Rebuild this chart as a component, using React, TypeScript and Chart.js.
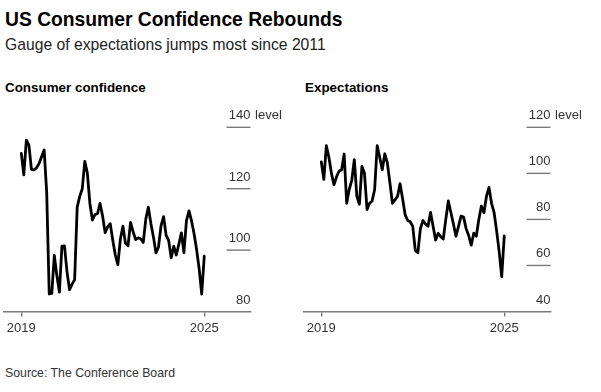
import React, { useEffect, useRef } from 'react';
import { Chart, registerables } from 'chart.js';

Chart.register(...registerables);

// Monthly readings, May 2019 – May 2025
const confidence: number[] = [
  131.5, 124.5, 135.8, 134.2, 126.3, 126.1, 126.8, 128.2,
  130.4, 132.6, 118.8, 85.7, 85.9, 98.3, 91.7, 86.3, 101.3, 101.4, 92.9, 87.1,
  88.9, 90.4, 114.0, 117.5, 120.0, 128.9, 125.1, 115.2, 109.8, 111.6, 111.9, 115.2,
  111.1, 105.7, 107.6, 108.6, 103.2, 98.4, 95.3, 103.6, 107.8, 102.2, 101.4, 109.0,
  106.0, 103.4, 104.0, 103.7, 102.5, 110.1, 114.0, 108.7, 104.3, 99.1, 101.0, 108.0,
  110.9, 104.8, 103.1, 97.5, 101.3, 98.4, 101.9, 105.6, 99.2, 109.6, 112.8, 109.5,
  105.3, 100.1, 93.9, 85.7, 98.0,
];

const expectations: number[] = [
  105.0, 97.4, 112.0, 107.0, 100.0, 95.0, 98.5, 101.0,
  101.5, 108.4, 87.0, 93.0, 97.0, 106.0, 90.0, 86.6, 103.0, 100.0, 84.3, 87.0,
  88.0, 93.0, 112.0, 107.0, 101.5, 108.5, 104.5, 96.0, 87.0, 88.5, 90.0, 95.5,
  89.0, 82.0, 79.5, 79.0, 77.0, 66.5, 65.5, 76.0, 79.5, 78.0, 77.0, 83.0,
  77.0, 71.0, 74.0, 72.5, 71.5, 80.0, 88.0, 83.0, 78.0, 72.7, 77.0, 81.4,
  81.0, 76.0, 73.0, 68.8, 74.0, 72.7, 80.0, 85.8, 82.9, 90.0, 93.9, 87.0,
  83.0, 75.0, 66.0, 55.1, 72.8,
];

const confidenceTicks: number[] = [80, 100, 120, 140];
const expectationsTicks: number[] = [40, 60, 80, 100, 120];
const xTickPositions: number[] = [0, 72];
const xTickLabels: string[] = ['2019', '2025'];
const unitLabel = 'level';

const FONT = '"Liberation Sans", Arial, Helvetica, sans-serif';
const GRID = '#7a7a7a';
const TEXT = '#333333';

function yTicksPlugin(ticks: number[]) {
  return {
    id: 'yTicksCustom',
    afterDraw(chart: any) {
      const { ctx, chartArea, scales } = chart;
      const y = scales.y;
      ctx.save();
      ctx.font = `13px ${FONT}`;
      ctx.fillStyle = TEXT;
      ctx.strokeStyle = GRID;
      ctx.lineWidth = 1.4;
      ticks.forEach((v, i) => {
        const py = y.getPixelForValue(v);
        if (i > 0) {
          ctx.beginPath();
          ctx.moveTo(chartArea.right - 24, py);
          ctx.lineTo(chartArea.right, py);
          ctx.stroke();
        }
        ctx.textAlign = 'right';
        ctx.textBaseline = 'alphabetic';
        ctx.fillText(String(v), chartArea.right, py - 8);
        if (i === ticks.length - 1) {
          ctx.textAlign = 'left';
          ctx.fillText(' ' + unitLabel, chartArea.right + 1, py - 8);
        }
      });
      ctx.restore();
    },
  };
}

function makeConfig(values: number[], ticks: number[], rightPad: number) {
  return {
    type: 'line' as const,
    data: {
      datasets: [
        {
          data: values.map((v, i) => ({ x: i, y: v })),
          borderColor: '#000000',
          borderWidth: 2.8,
          pointRadius: 0,
          tension: 0,
          borderJoinStyle: 'round' as const,
          borderCapStyle: 'round' as const,
        },
      ],
    },
    options: {
      animation: false as const,
      responsive: false,
      maintainAspectRatio: false,
      layout: { padding: { left: 4, right: rightPad, top: 27.3, bottom: 0 } },
      plugins: { legend: { display: false }, tooltip: { enabled: false } },
      scales: {
        x: {
          type: 'linear' as const,
          min: -6.8,
          max: 90.2,
          afterBuildTicks: (s: any) => {
            s.ticks = xTickPositions.map((v) => ({ value: v }));
          },
          afterFit: (s: any) => {
            s.height = 48.5;
          },
          grid: { drawOnChartArea: false, drawTicks: true, tickLength: 5, color: GRID, lineWidth: 1.4 },
          border: { display: true, color: GRID, width: 1.4 },
          ticks: {
            autoSkip: false,
            maxRotation: 0,
            padding: 4,
            color: TEXT,
            font: { family: FONT, size: 13 },
            callback: (_v: any, i: number) => xTickLabels[i],
          },
        },
        y: {
          type: 'linear' as const,
          display: false,
          min: ticks[0],
          max: ticks[ticks.length - 1],
        },
      },
    },
    plugins: [yTicksPlugin(ticks)],
  };
}

function Panel({ values, ticks, width, rightPad }: { values: number[]; ticks: number[]; width: number; rightPad: number }) {
  const ref = useRef<HTMLCanvasElement | null>(null);
  useEffect(() => {
    if (!ref.current) return;
    const chart = new Chart(ref.current, makeConfig(values, ticks, rightPad) as any);
    return () => chart.destroy();
  }, [values, ticks, width, rightPad]);
  return <canvas ref={ref} width={width} height={260} style={{ width, height: 260, display: 'block' }} />;
}

const textBase: React.CSSProperties = {
  position: 'absolute',
  left: 5,
  whiteSpace: 'nowrap',
  fontFamily: FONT,
  lineHeight: 1,
  margin: 0,
};

export default function App() {
  return (
    <div style={{ position: 'absolute', left: 0, top: 0, width: 601, height: 392, background: '#ffffff', overflow: 'hidden' }}>
      <div style={{ ...textBase, top: 9.7, fontSize: 19.3, fontWeight: 700, color: '#000' }}>
        US Consumer Confidence Rebounds
      </div>
      <div style={{ ...textBase, top: 36.9, fontSize: 15.7, color: '#222' }}>
        Gauge of expectations jumps most since 2011
      </div>
      <div style={{ ...textBase, top: 81.3, fontSize: 13.4, fontWeight: 700, color: '#000' }}>Consumer confidence</div>
      <div style={{ ...textBase, left: 305, top: 81.3, fontSize: 13.4, fontWeight: 700, color: '#000' }}>Expectations</div>
      <div style={{ position: 'absolute', left: 0, top: 100 }}>
        <Panel values={confidence} ticks={confidenceTicks} width={300} rightPad={49.5} />
      </div>
      <div style={{ position: 'absolute', left: 300, top: 100 }}>
        <Panel values={expectations} ticks={expectationsTicks} width={301} rightPad={50.5} />
      </div>
      <div style={{ ...textBase, top: 367, fontSize: 12.3, color: TEXT }}>Source: The Conference Board</div>
    </div>
  );
}
